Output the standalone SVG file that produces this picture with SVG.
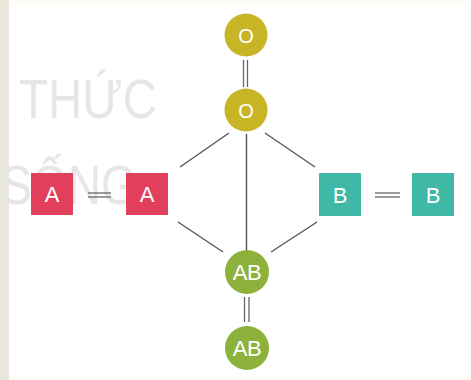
<svg xmlns="http://www.w3.org/2000/svg" width="471" height="380" viewBox="0 0 471 380">
  <style>
    .wm { font-family: "Liberation Sans", Arial, sans-serif; font-size: 56px; fill: #e6e6e6; }
    .lbl { font-family: "Liberation Sans", Arial, sans-serif; fill: #ffffff; text-anchor: middle; }
    .line { stroke: #555555; stroke-width: 1.4; fill: none; }
    .dbl { stroke: #666666; stroke-width: 1.3; fill: none; }
    .o { fill: #c7b526; }
    .a { fill: #e13f5c; }
    .b { fill: #3fb9a6; }
    .ab { fill: #8cb23b; }
  </style>
  <rect x="0" y="0" width="471" height="380" fill="#fdfcf8"/>
  <rect x="0" y="0" width="9" height="380" fill="#ebe6dc"/>
  <rect x="9" y="6" width="460" height="370" fill="#ffffff"/>
  <g id="watermark">
    <text class="wm" x="19" y="118" textLength="138" lengthAdjust="spacingAndGlyphs">THỨC</text>
    <text class="wm" x="1" y="204" textLength="136" lengthAdjust="spacingAndGlyphs">SỐNG</text>
  </g>
  <g id="connectors">
    <line class="dbl" x1="243.5" y1="60" x2="243.5" y2="87"/>
    <line class="dbl" x1="247.5" y1="60" x2="247.5" y2="87"/>
    <line class="line" x1="229" y1="133" x2="180" y2="167"/>
    <line class="line" x1="265" y1="133" x2="315" y2="167"/>
    <line class="line" x1="246.5" y1="134" x2="246.5" y2="251"/>
    <line class="dbl" x1="88" y1="193" x2="111" y2="193"/>
    <line class="dbl" x1="88" y1="197" x2="111" y2="197"/>
    <line class="dbl" x1="375" y1="193" x2="400" y2="193"/>
    <line class="dbl" x1="375" y1="197" x2="400" y2="197"/>
    <line class="line" x1="178" y1="222" x2="223" y2="252"/>
    <line class="line" x1="317" y1="222" x2="271" y2="252"/>
    <line class="dbl" x1="244.5" y1="297" x2="244.5" y2="322"/>
    <line class="dbl" x1="249" y1="297" x2="249" y2="322"/>
  </g>
  <g id="o-top">
    <circle class="o" cx="246" cy="35" r="21.5"/>
    <text class="lbl" x="246" y="42.5" font-size="20">O</text>
  </g>
  <g id="o-mid">
    <circle class="o" cx="246" cy="110" r="21.5"/>
    <text class="lbl" x="246" y="117.5" font-size="20">O</text>
  </g>
  <g id="a-left">
    <rect class="a" x="31" y="173" width="42" height="42"/>
    <text class="lbl" x="52" y="202" font-size="22">A</text>
  </g>
  <g id="a-right">
    <rect class="a" x="126" y="173" width="42" height="42"/>
    <text class="lbl" x="147" y="202" font-size="22">A</text>
  </g>
  <g id="b-left">
    <rect class="b" x="319" y="173" width="42" height="43"/>
    <text class="lbl" x="340" y="202.5" font-size="22">B</text>
  </g>
  <g id="b-right">
    <rect class="b" x="412" y="173" width="42" height="43"/>
    <text class="lbl" x="433" y="202.5" font-size="22">B</text>
  </g>
  <g id="ab-mid">
    <circle class="ab" cx="247" cy="272" r="22"/>
    <text class="lbl" x="247" y="280" font-size="22" letter-spacing="-0.5">AB</text>
  </g>
  <g id="ab-bottom">
    <circle class="ab" cx="247" cy="348" r="22"/>
    <text class="lbl" x="247" y="356" font-size="22" letter-spacing="-0.5">AB</text>
  </g>
</svg>
